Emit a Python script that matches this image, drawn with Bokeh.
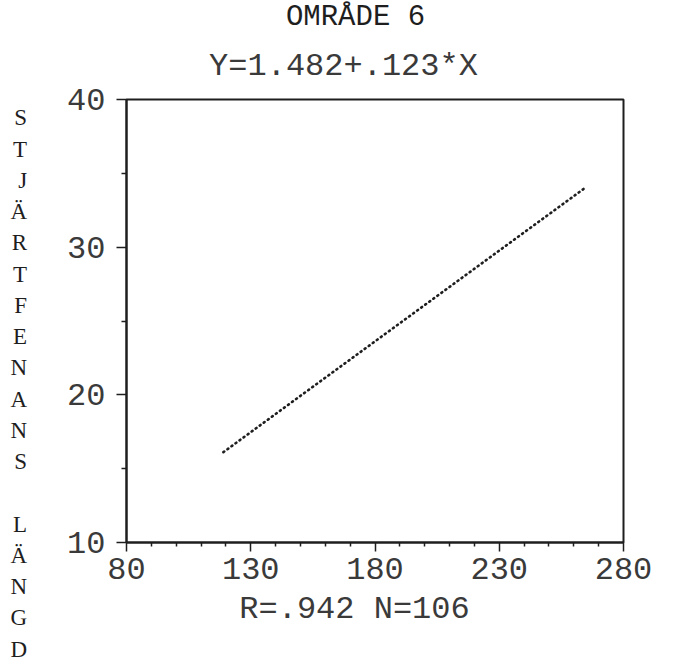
from bokeh.plotting import figure
from bokeh.models import Range1d, FixedTicker, Title
from bokeh.embed import file_html
from bokeh.resources import INLINE

# ---- data ----
title_text = "OMRÅDE 6"
equation_text = "Y=1.482+.123*X"
stats_text = "R=.942 N=106"
y_title_word1 = ["S", "T", "J", "Ä", "R", "T", "F", "E", "N", "A", "N", "S"]
y_title_word2 = ["L", "Ä", "N", "G", "D"]
x_ticks = [80, 130, 180, 230, 280]
x_minor_ticks = [90, 100, 110, 120, 140, 150, 160, 170, 190, 200, 210, 220,
                 240, 250, 260, 270]
y_ticks = [10, 20, 30, 40]
y_minor_ticks = [15, 25, 35]
# regression line end points (x, y)
line_x = [119, 264]
line_y = [16.12, 33.95]

# ---- layout ----
W, H = 673, 667
FL, FT, FW, FH = 126, 99, 497, 443
X0, X1, Y0, Y1 = 80, 280, 10, 40

INK = "#1e1e1e"
DOT = "#3a3a3a"
MONO = "Liberation Mono"
SERIF = "Liberation Serif"
ADV = 0.6001                     # Liberation Mono advance per em

p = figure(frame_width=FW, frame_height=FH, x_range=Range1d(X0, X1),
           y_range=Range1d(Y0, Y1), output_backend="svg", toolbar_location=None,
           title=None,
           min_border_left=FL, min_border_top=FT,
           min_border_right=W - FL - FW, min_border_bottom=H - FT - FH,
           background_fill_color="white", border_fill_color="white")
p.grid.visible = False
p.outline_line_color = INK
p.outline_line_width = 2

p.line(line_x, line_y, line_color=INK, line_width=2.6, line_dash="1 4",
       line_cap="round")

for ax in (p.xaxis[0], p.yaxis[0]):
    ax.axis_line_color = INK
    ax.axis_line_width = 2
    ax.major_tick_line_color = INK
    ax.minor_tick_line_color = INK
    ax.major_tick_line_width = 1.5
    ax.minor_tick_line_width = 1.5
    ax.major_tick_in = 0
    ax.minor_tick_in = 0
    ax.major_label_text_font = MONO
    ax.major_label_text_font_size = "32px"
    ax.major_label_text_color = DOT

p.xaxis[0].ticker = FixedTicker(ticks=x_ticks, minor_ticks=x_minor_ticks)
p.xaxis[0].major_tick_out = 9
p.xaxis[0].minor_tick_out = 4
p.xaxis[0].major_label_standoff = 6

yax = p.yaxis[0]
yax.ticker = FixedTicker(ticks=y_ticks, minor_ticks=y_minor_ticks)
yax.major_tick_out = 10
yax.minor_tick_out = 5
yax.major_label_standoff = 11
# stacked letters of the y title as a multi-line horizontal axis label
yax.axis_label = "\n".join([""] * 4 + y_title_word1 + [""] + y_title_word2)
yax.axis_label_orientation = "horizontal"
yax.axis_label_text_font = SERIF
yax.axis_label_text_font_size = "23px"
yax.axis_label_text_font_style = "normal"
yax.axis_label_text_color = INK
yax.axis_label_text_line_height = 1.25
yax.axis_label_text_align = "center"
yax.axis_label_standoff = 37


def left_offset(txt, size_px, center_px):
    width = len(txt) * size_px * ADV
    return center_px - width / 2 - FL


# equation line (closest to the frame), then main title above it
p.add_layout(Title(text=equation_text, align="left", vertical_align="top",
                   offset=left_offset(equation_text, 32, 343),
                   text_font=MONO, text_font_size="32px", text_color=DOT,
                   text_font_style="normal", standoff=25), "above")
p.add_layout(Title(text=title_text, align="left", vertical_align="top",
                   offset=left_offset(title_text, 29, 355),
                   text_font=MONO, text_font_size="29px", text_color=INK,
                   text_font_style="normal", standoff=0), "above")
p.add_layout(Title(text=stats_text, align="left",
                   offset=left_offset(stats_text, 32, 354),
                   text_font=MONO, text_font_size="32px", text_color=DOT,
                   text_font_style="normal", standoff=14), "below")

open("out.html", "w").write(file_html(p, INLINE))
